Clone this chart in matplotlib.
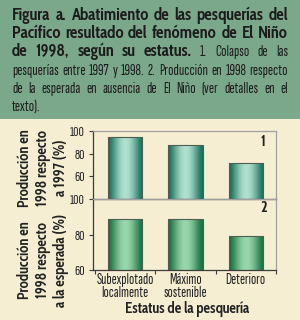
import numpy as np
import matplotlib.pyplot as plt
from matplotlib.colors import LinearSegmentedColormap
from matplotlib.patches import Rectangle

categories = ["Subexplotado\nlocalmente", "Máximo\nsostenible", "Deterioro"]
colapso_1997 = [95, 88, 72]      # panel 1: producción 1998 respecto a 1997 (%)
vs_esperada = [89, 88.5, 79]     # panel 2: producción 1998 respecto a la esperada (%)

header_lines = [
    [("Figura a. Abatimiento de las pesquerías del", "bold")],
    [("Pacífico resultado del fenómeno de El Niño", "bold")],
    [("de 1998, según su estatus.", "bold"), ("1. Colapso de las", "normal")],
    [("pesquerías entre 1997 y 1998. 2. Producción en 1998 respecto", "normal")],
    [("de la esperada en ausencia de El Niño (ver detalles en el", "normal")],
    [("texto).", "normal")],
]

BOLD_FONT = ["Cabin Condensed", "DejaVu Sans"]
REG_FONT = ["Sofia Sans Extra Condensed", "Cabin Condensed", "DejaVu Sans"]
FAMILY = {"bold": BOLD_FONT, "normal": REG_FONT}
BG = "#f5eed3"
HEAD = "#7ba88a"
INK = "#222222"
W, H = 300, 320

plt.rcParams["font.family"] = BOLD_FONT
fig = plt.figure(figsize=(W / 100, H / 100), dpi=100, facecolor=BG)
fig.patches.append(Rectangle((0, 1 - 119 / H), 1, 119 / H, transform=fig.transFigure,
                             facecolor=HEAD, edgecolor="none", zorder=0))

renderer = fig.canvas.get_renderer()


def text_width(s, size, weight):
    t = fig.text(0, 0, s, fontsize=size, fontweight=weight, family=FAMILY[weight])
    w = t.get_window_extent(renderer).width
    t.remove()
    return w


def split_words(parts):
    return [(w, wt) for s, wt in parts for w in s.split(" ")]


def natural_width(parts, sizes):
    words = split_words(parts)
    return sum(text_width(w, sizes[wt], wt) for w, wt in words) + 3.0 * (len(words) - 1)


def draw_line(parts, baseline, sizes, x0=12, x1=288, justify=True):
    words = split_words(parts)
    widths = [text_width(w, sizes[wt], wt) for w, wt in words]
    if justify and len(words) > 1:
        gap = max((x1 - x0 - sum(widths)) / (len(words) - 1), 2.0)
    else:
        gap = 3.5
    x = x0
    for (w, wt), wd in zip(words, widths):
        fig.text(x / W, 1 - baseline / H, w, fontsize=sizes[wt], fontweight=wt,
                 family=FAMILY[wt], color="#1c1c1c", va="baseline", ha="left")
        x += wd + gap


# largest sizes that still fit the box width
sizes = {"bold": 12.0, "normal": 12.0}
for wt in ("bold", "normal"):
    while any(natural_width(p, sizes) > 276 for p in header_lines[:-1]
              if all(x[1] == wt for x in p)) and sizes[wt] > 6:
        sizes[wt] -= 0.25
while natural_width(header_lines[2], sizes) > 276 and sizes["bold"] > 6:
    sizes["bold"] -= 0.25

for i, parts in enumerate(header_lines):
    draw_line(parts, 20 + 18.2 * i, sizes, justify=(i < len(header_lines) - 1))


def cylinder_bars(ax, values, dark, light, ybottom):
    cmap = LinearSegmentedColormap.from_list("cyl", [dark, light])
    t = np.linspace(0, 1, 64)
    grad = (np.sin(np.pi * t) ** 1.4)[np.newaxis, :]
    x = np.arange(len(values))
    bars = ax.bar(x, values, width=0.57, facecolor="none",
                  edgecolor="#4d5e52", linewidth=0.8, zorder=3)
    for b in bars:
        im = ax.imshow(grad, extent=(b.get_x(), b.get_x() + b.get_width(), ybottom, b.get_height()),
                       aspect="auto", cmap=cmap, vmin=0, vmax=1, zorder=2, interpolation="bicubic")
        im.set_clip_path(b)


def style_axes(ax):
    ax.set_facecolor("none")
    for s in ("left", "bottom"):
        ax.spines[s].set_color("#3c3c3c")
        ax.spines[s].set_linewidth(0.9)
    for s in ("top", "right"):
        ax.spines[s].set_color("#a0a0a0")
        ax.spines[s].set_linewidth(0.9)
    ax.tick_params(axis="y", direction="out", length=3, width=0.8, color="#3c3c3c",
                   labelsize=10.5, labelcolor=INK, pad=3)
    for lab in ax.get_yticklabels():
        lab.set_family(REG_FONT)
    ax.set_xlim(-0.53, 2.5)


ax1 = fig.add_axes([93 / W, 1 - 199 / H, 183 / W, 68 / H])
ax2 = fig.add_axes([93 / W, 1 - 270 / H, 183 / W, 71 / H])

cylinder_bars(ax1, colapso_1997, "#17705a", "#b0e0cf", 40)
ax1.set_ylim(40, 100)
ax1.set_yticks([60, 80, 100])
ax1.set_xticks([])
style_axes(ax1)
ax1.text(0.93, 0.84, "1", transform=ax1.transAxes, fontsize=10.5, fontweight="bold",
         color=INK, ha="center", va="center")

cylinder_bars(ax2, vs_esperada, "#18703f", "#98d6ab", 60)
ax2.set_ylim(60, 100)
ax2.set_yticks([60, 80, 100])
ax2.set_xticks(range(len(categories)))
ax2.set_xticklabels(categories, fontsize=11, color=INK, linespacing=0.95, family=REG_FONT)
ax2.tick_params(axis="x", length=0, pad=2)
ax2.set_xticks([-0.5, 0.5, 1.5, 2.5], minor=True)
ax2.tick_params(axis="x", which="minor", direction="out", length=3, width=0.8, color="#3c3c3c")
style_axes(ax2)
ax2.text(0.93, 0.87, "2", transform=ax2.transAxes, fontsize=10.5, fontweight="bold",
         color=INK, ha="center", va="center")

fig.text(43 / W, 1 - 168 / H, "Producción en\n1998 respecto\na 1997 (%)", rotation=90,
         fontsize=10.5, fontweight="bold", color=INK, ha="center", va="center",
         multialignment="center", linespacing=1.15)
fig.text(43 / W, 1 - 260 / H, "Producción en\n1998 respecto\na la esperada (%)", rotation=90,
         fontsize=10.5, fontweight="bold", color=INK, ha="center", va="center",
         multialignment="center", linespacing=1.15)
fig.text(187 / W, 1 - 309 / H, "Estatus de la pesquería", fontsize=10.5, fontweight="bold",
         color=INK, ha="center", va="center")

fig.savefig("out.png", dpi=100, facecolor=BG)
